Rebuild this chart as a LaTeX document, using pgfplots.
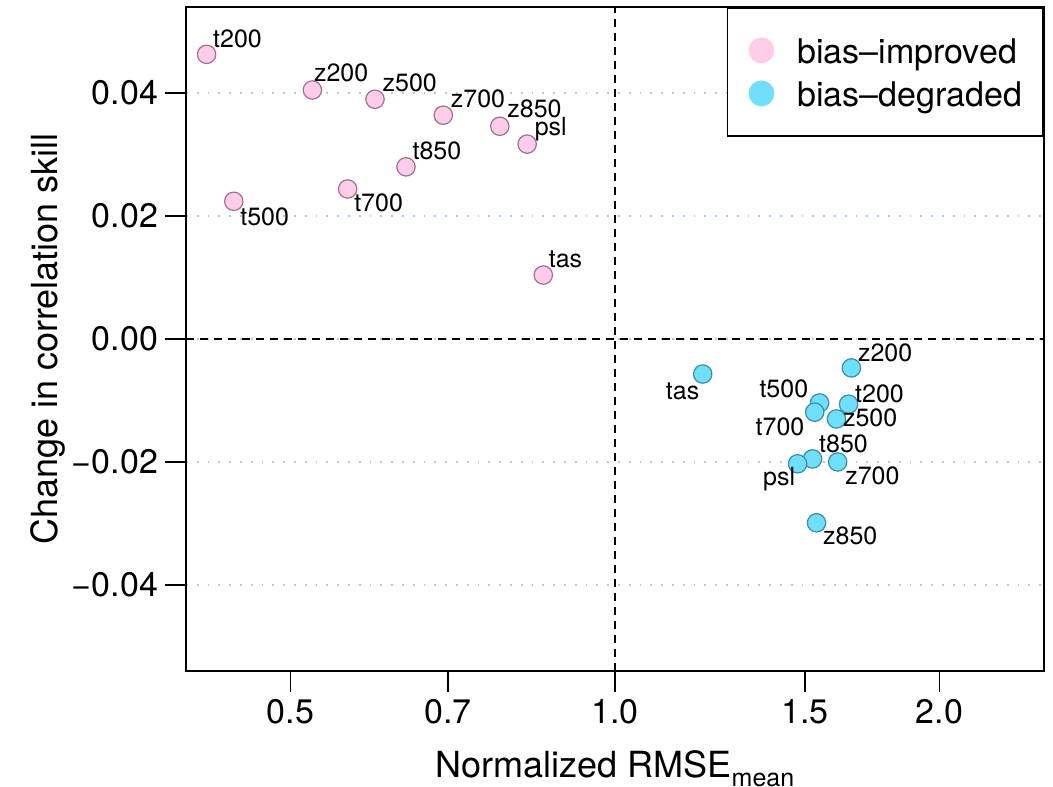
\documentclass[border=0pt]{standalone}
\usepackage{fontspec}
\setmainfont{TeX Gyre Heros}
\usepackage{pgfplots}
\usepackage{pgfplotstable}
\pgfplotsset{compat=1.18}
\usetikzlibrary{calc}
\definecolor{pinkfill}{HTML}{FFCCEA}
\definecolor{pinkedge}{HTML}{A07090}
\definecolor{bluefill}{HTML}{6FDFFA}
\definecolor{blueedge}{HTML}{3B8EA5}
\definecolor{gridc}{HTML}{A8CCE6}

\pgfplotstableread{
x y lab dx dy
0.418 0.0463 t200 3 3.5
0.524 0.0405 z200 0.5 4
0.599 0.0390 z500 3.5 4
0.693 0.0364 z700 3.5 4
0.782 0.0346 z850 3.5 4.5
0.829 0.0317 psl 3.5 4.5
0.640 0.0280 t850 3 3.5
0.565 0.0244 t700 3 -11.5
0.443 0.0224 t500 3 -12
0.858 0.0104 tas 2.5 4
}\improved

\pgfplotstableread{
x y lab dx dy
1.206 -0.0057 \llap{tas} -2.5 -12.5
1.657 -0.0047 z200 3 3
1.548 -0.0104 \llap{t500} -6.5 2.5
1.647 -0.0106 t200 3 1
1.532 -0.0119 \llap{t700} -6 -11.5
1.605 -0.0130 z500 3 -4
1.525 -0.0195 t850 3 3
1.477 -0.0203 \llap{psl} -2 -11
1.609 -0.0200 z700 3.5 -11.5
1.538 -0.0299 z850 3 -11
}\degraded

\begin{document}
\begin{tikzpicture}
\begin{axis}[
  scale only axis, width=429pt, height=332pt,
  xmode=log, xmin=0.4, xmax=2.5, ymin=-0.054, ymax=0.054,
  xtick={0.5,0.7,1,1.5,2}, xticklabels={0.5,0.7,1.0,1.5,2.0},
  xminorticks=false, yminorticks=false,
  ytick={-0.04,-0.02,0,0.02,0.04},
  yticklabels={−0.04,−0.02,0.00,0.02,0.04},
  tick pos=left, tick align=outside,
  major tick length=10.5pt,
  tick style={black, line width=0.8pt},
  axis line style={line width=0.9pt},
  ymajorgrids, grid style={gridc, line width=0.9pt, dash pattern=on 0.9pt off 4.5pt},
  ticklabel style={font=\fontsize{17}{20}\selectfont},
  xlabel={Normalized RMSE\raisebox{-0.25em}{\fontsize{12.5}{14}\selectfont mean}},
  ylabel={Change in correlation skill},
  every axis x label/.style={at={(axis description cs:0.5,-0.1611)}, anchor=base, font=\fontsize{18}{21}\selectfont},
  every axis y label/.style={at={(axis description cs:-0.1492,0.5)}, anchor=base, rotate=90, font=\fontsize{18}{21}\selectfont},
  legend style={at={(rel axis cs:1,1)}, anchor=north east, draw=black, line width=0.9pt, fill=white,
    font=\fontsize{17}{20}\selectfont, inner xsep=10.5pt, inner ysep=11.25pt, row sep=1.5pt,
    nodes={inner sep=0pt, text height=16.5pt, text depth=3.5pt},
    /tikz/every odd column/.append style={column sep=11.5pt}},
  legend cell align=left,
  clip mode=individual,
]
\coordinate (SW) at (rel axis cs:0,0);
\coordinate (NE) at (rel axis cs:1,1);
\addplot[black, dash pattern=on 4pt off 3pt, line width=0.7pt, forget plot] coordinates {(1,-0.054) (1,0.054)};
\addplot[black, dash pattern=on 4pt off 3pt, line width=0.7pt, forget plot] coordinates {(0.4,0) (2.5,0)};

\addplot[only marks, mark=*, mark size=4.6pt,
  mark options={fill=pinkfill, draw=pinkedge, line width=0.6pt},
  point meta=explicit symbolic,
  visualization depends on={\thisrow{dx}\as\ldx},
  visualization depends on={\thisrow{dy}\as\ldy},
  nodes near coords,
  every node near coord/.append style={anchor=base west, xshift=\ldx pt, yshift=\ldy pt, inner sep=0pt, font=\fontsize{12.5}{14}\selectfont, text=black},
  legend image code/.code={\fill[pinkfill] (3pt,0pt) circle (6pt);}
] table[meta=lab] {\improved};
\addlegendentry{bias–improved}

\addplot[only marks, mark=*, mark size=4.6pt,
  mark options={fill=bluefill, draw=blueedge, line width=0.6pt},
  point meta=explicit symbolic,
  visualization depends on={\thisrow{dx}\as\ldx},
  visualization depends on={\thisrow{dy}\as\ldy},
  nodes near coords,
  every node near coord/.append style={anchor=base west, xshift=\ldx pt, yshift=\ldy pt, inner sep=0pt, font=\fontsize{12.5}{14}\selectfont, text=black},
  legend image code/.code={\fill[bluefill] (3pt,0pt) circle (6pt);}
] table[meta=lab] {\degraded};
\addlegendentry{bias–degraded}
\end{axis}
\pgfresetboundingbox
\path[use as bounding box] ($(SW)+(-93pt,-57.5pt)$) rectangle ($(NE)+(4.5pt,3.5pt)$);
\end{tikzpicture}
\end{document}
